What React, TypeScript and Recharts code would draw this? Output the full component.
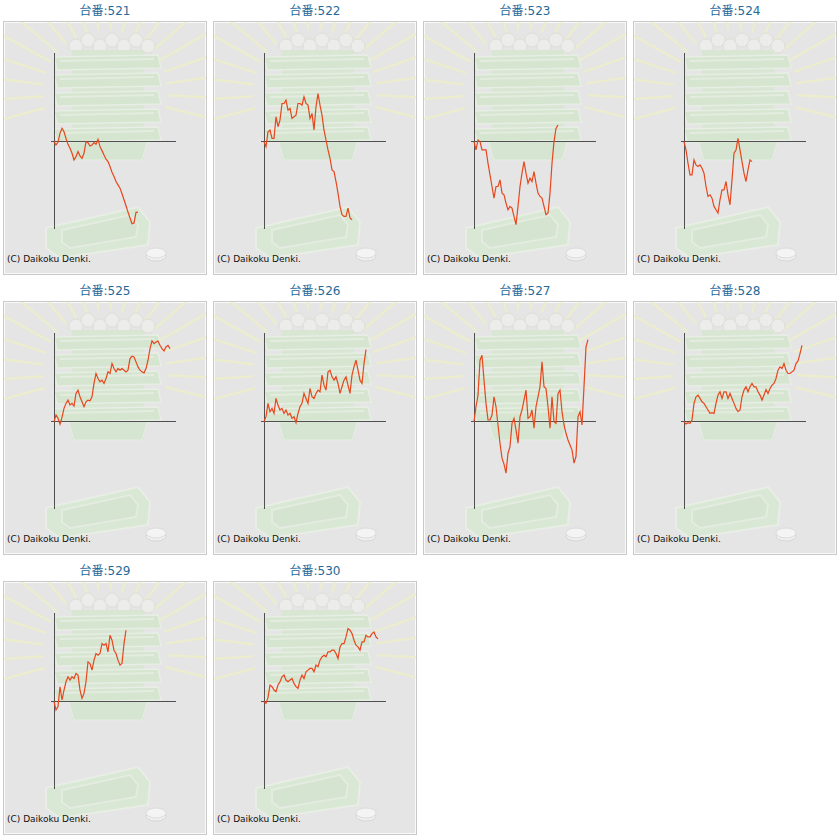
import { LineChart, Line, XAxis, YAxis, ReferenceLine } from 'recharts';

// slump values sampled every 2px across the day (coins, +/-)
const machines = ['521', '522', '523', '524', '525', '526', '527', '528', '529', '530'];

const values521 = [-20, -120, -40, 230, 380, 280, 80, -100, -220, -370, -570, -470, -320, -450, -520, -370, -20, -50, -150, -120, -50, -100, 50, -170, -290, -420, -550, -620, -770, -940, -1070, -1220, -1320, -1420, -1590, -1770, -1950, -2140, -2320, -2490, -2470, -2150, -2140];
const values522 = [-20, -170, 280, 330, 80, 80, 730, 430, 630, 1130, 1130, 1230, 930, 980, 680, 730, 780, 1130, 1130, 1080, 1330, 1130, 1080, 680, 830, 330, 1030, 1430, 1080, 780, 330, 30, -270, -520, -870, -920, -1220, -1570, -1970, -2220, -2270, -2270, -2020, -2320, -2370];
const values523 = [-20, -270, 30, -20, -270, -270, -270, -670, -1020, -1370, -1720, -1370, -1370, -1170, -1570, -1620, -1870, -2070, -1970, -2020, -2270, -2520, -1970, -1370, -970, -620, -970, -1270, -1120, -1220, -920, -1270, -1570, -1670, -1720, -1970, -2220, -2170, -1570, -670, -20, 380, 480];
const values524 = [-20, -270, -670, -1020, -1020, -570, -720, -770, -720, -820, -970, -1370, -1670, -1620, -1720, -1970, -2070, -2170, -1770, -1470, -1470, -1220, -1620, -1920, -1170, -370, -270, 80, -270, -620, -970, -1220, -870, -570, -620];
const values525 = [-20, 180, 80, -100, 110, 380, 530, 630, 480, 530, 450, 830, 930, 730, 580, 430, 580, 630, 610, 730, 1130, 1430, 1280, 1180, 1230, 1130, 1280, 1480, 1430, 1730, 1580, 1480, 1580, 1530, 1580, 1530, 1480, 1530, 1880, 1950, 1930, 1780, 1630, 1530, 1480, 1450, 1580, 1830, 2180, 2410, 2330, 2380, 2410, 2280, 2180, 2110, 2230, 2280, 2180];
const values526 = [-20, 130, 530, 280, 380, 230, 680, 480, 330, 380, 230, 330, 180, 230, 80, 130, -50, 230, 430, 530, 830, 680, 530, 980, 730, 680, 830, 930, 880, 1380, 1080, 930, 1480, 1530, 1330, 1230, 1330, 1130, 830, 1030, 1230, 1330, 1080, 830, 1380, 1630, 1830, 1530, 1230, 1130, 1730, 2150];
const values527 = [-20, 430, 780, 1830, 1980, 1230, 530, 30, 30, 180, 730, 430, -120, -670, -1120, -1300, -1570, -970, -770, -70, 80, -270, -670, 130, 330, 630, 930, 80, 130, 330, -220, 430, 730, 1030, 1780, 1030, 980, 430, -220, 730, -20, -70, 830, 930, 280, -120, -370, -570, -720, -870, -1270, -1070, 130, 280, -120, 1030, 2230, 2450];
const values528 = [-20, -90, -50, -70, 30, 530, 730, 780, 680, 580, 530, 430, 330, 230, 250, 230, 530, 780, 880, 680, 880, 880, 680, 830, 680, 530, 380, 280, 330, 730, 930, 1030, 880, 1030, 1130, 1030, 1030, 880, 780, 630, 780, 950, 830, 980, 1080, 1130, 1280, 1530, 1630, 1580, 1730, 1530, 1430, 1430, 1480, 1530, 1730, 1810, 2030, 2280];
const values529 = [-20, -270, -170, 430, 30, 330, 580, 730, 630, 730, 680, 830, 780, 330, 80, 230, 580, 1180, 1130, 930, 1230, 1430, 1380, 1430, 1730, 1680, 1730, 1480, 1980, 1830, 1530, 1430, 1230, 1080, 1130, 1730, 2130];
const values530 = [-20, -70, 110, 480, 430, 330, 280, 480, 580, 730, 780, 630, 580, 630, 680, 530, 430, 380, 630, 780, 680, 880, 930, 980, 980, 880, 1080, 1030, 1230, 1330, 1380, 1330, 1480, 1480, 1530, 1530, 1430, 1280, 1630, 1730, 1730, 1930, 2180, 2130, 2030, 1830, 1680, 1630, 1530, 1780, 1780, 1980, 1930, 1930, 2030, 2080, 1930, 1870];

const series = [values521, values522, values523, values524, values525, values526, values527, values528, values529, values530];

const PANEL_W = 202;
const PANEL_H = 252;

function Backdrop() {
  const cx = 101;
  const cy = 70;
  const rays = [];
  for (let a = -195; a <= 15; a += 11) {
    const r = (a * Math.PI) / 180;
    rays.push(
      <line
        key={a}
        x1={cx + Math.cos(r) * 62}
        y1={cy + Math.sin(r) * 62}
        x2={cx + Math.cos(r) * 170}
        y2={cy + Math.sin(r) * 170}
        stroke="#efefc8"
        strokeWidth={2.5}
      />
    );
  }
  const layers = [33, 51, 69, 87, 105];
  const balls = [72, 84, 96, 108, 120, 132, 144];
  return (
    <svg width={PANEL_W} height={PANEL_H} style={{ position: 'absolute', left: 0, top: 0, opacity: 0.75 }}>
      {rays}
      {balls.map((bx, k) => (
        <circle key={bx} cx={bx} cy={k % 2 ? 18 : 24} r={7} fill="#efefec" stroke="#dcdcd4" />
      ))}
      <rect x={68} y={28} width={72} height={110} fill="#d4e7ce" />
      <polygon points="64,118 144,118 138,138 70,138" fill="#d2e6cb" stroke="#e8f1e5" />
      {layers.map((t) => (
        <g key={t}>
          <polygon
            points={`50,${t + 2} 154,${t} 157,${t + 13} 53,${t + 15}`}
            fill="#d0e5c8"
            stroke="#e8f1e4"
            strokeWidth={1.5}
          />
          <line x1={56} y1={t + 6} x2={150} y2={t + 4} stroke="#e4efdf" strokeWidth={2} />
        </g>
      ))}
      <polygon points="42,206 134,185 146,200 144,223 56,236 42,226" fill="#d6e9d0" stroke="#eaf2e6" strokeWidth={2} />
      <polygon points="58,208 126,193 134,203 132,215 66,226 58,220" fill="#d0e4ca" stroke="#e4eedf" strokeWidth={2} />
      <ellipse cx={152} cy={234} rx={10} ry={5} fill="#f4f4f4" stroke="#d2d2d2" />
      <ellipse cx={152} cy={231} rx={10} ry={5} fill="#fafafa" stroke="#d8d8d8" />
    </svg>
  );
}

function Panel({ name, values, col, row }: any) {
  const data = values.map((v: number, i: number) => ({ i, v }));
  return (
    <>
      <div
        style={{
          position: 'absolute',
          left: col * 210,
          top: row * 280 + 3,
          width: 210,
          textAlign: 'center',
          fontFamily: '"DejaVu Sans", "Noto Sans CJK JP", sans-serif',
          fontSize: 12,
          lineHeight: '16px',
          color: '#26699a'
        }}>
        台番:{name}
      </div>
      <div
        style={{
          position: 'absolute',
          left: col * 210 + 4,
          top: row * 280 + 22,
          width: PANEL_W,
          height: PANEL_H,
          background: '#e5e5e5',
          boxShadow: '0 0 0 1px #c9c9c9, inset 0 0 0 1px #fafafa',
          overflow: 'hidden'
        }}>
        <Backdrop />
        <div style={{ position: 'absolute', left: 0, top: 0 }}>
          <LineChart width={PANEL_W} height={PANEL_H} data={data} margin={{ top: 31, left: 47, right: 30, bottom: 45 }}>
            <XAxis type="number" dataKey="i" domain={[-1.5, 61]} hide allowDataOverflow />
            <YAxis type="number" domain={[-2650, 2650]} hide allowDataOverflow />
            <ReferenceLine y={0} stroke="#505050" strokeWidth={1} shapeRendering="crispEdges" />
            <ReferenceLine x={0} stroke="#505050" strokeWidth={1} shapeRendering="crispEdges" />
            <Line type="linear" dataKey="v" stroke="#e8461c" strokeWidth={1.2} dot={false} isAnimationActive={false} />
          </LineChart>
        </div>
        <div
          style={{
            position: 'absolute',
            left: 3,
            top: 231,
            fontFamily: '"DejaVu Sans", sans-serif',
            fontSize: 9,
            lineHeight: '12px',
            color: '#111'
          }}>
          (C) Daikoku Denki.
        </div>
      </div>
    </>
  );
}

export default function App() {
  return (
    <div style={{ position: 'absolute', left: 0, top: 0, width: 840, height: 840, background: '#fff' }}>
      {machines.map((m, k) => (
        <Panel key={m} name={m} values={series[k]} col={k % 4} row={Math.floor(k / 4)} />
      ))}
    </div>
  );
}
